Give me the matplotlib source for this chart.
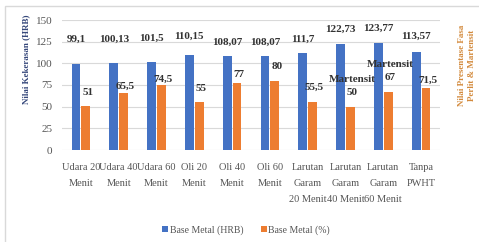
import matplotlib
matplotlib.use("Agg")
import matplotlib.pyplot as plt
from matplotlib.patches import Rectangle
import numpy as np

# --- data -------------------------------------------------------------------
categories = [
    "Udara 20\nMenit", "Udara 40\nMenit", "Udara 60\nMenit", "Oli 20\nMenit",
    "Oli 40\nMenit", "Oli 60\nMenit", "Larutan\nGaram\n20 Menit",
    "Larutan\nGaram\n40 Menit", "Larutan\nGaram\n60 Menit", "Tanpa\nPWHT",
]
hardness = [99.1, 100.13, 101.5, 110.15, 108.07, 108.07, 111.7, 122.73, 123.77, 113.57]
phase_pct = [51, 65.5, 74.5, 55, 77, 80, 55.5, 50, 67, 71.5]
hardness_labels = ["99,1", "100,13", "101,5", "110,15", "108,07", "108,07",
                   "111,7", "122,73", "123,77", "113,57"]
phase_labels = ["51", "65,5", "74,5", "55", "77", "80", "55,5",
                "Martensit\n50", "Martensit\n67", "71,5"]
y_ticks = [0, 25, 50, 75, 100, 125, 150]

# label gaps above bar tops (pixels)
blue_gap = [20, 19, 19, 14, 10, 10, 9, 10, 10, 11]
orange_gap = [9, 2, 2, 9, 4, 10, 10, 10, 10, 3]

BLUE = "#4472C4"
ORANGE = "#ED7D31"
SERIF = ["Liberation Serif", "DejaVu Serif"]

plt.rcParams["font.family"] = SERIF

fig = plt.figure(figsize=(4.79, 2.42), dpi=100)
ax = fig.add_axes([62 / 479, 1 - 150 / 242, 378 / 479, 130 / 242])

x = np.arange(len(categories))
w = 0.23
ax.bar(x - 0.13, hardness, w, color=BLUE, label="Base Metal (HRB)", zorder=3)
ax.bar(x + 0.13, phase_pct, w, color=ORANGE, label="Base Metal (%)", zorder=3)

px = 0.72  # points per pixel at dpi 100
for i in range(len(x)):
    ax.annotate(hardness_labels[i], (x[i] - 0.13, hardness[i]),
                xytext=(0, blue_gap[i] * px), textcoords="offset points",
                ha="center", va="bottom", fontsize=8, fontweight="bold",
                color="#333333")
    ax.annotate(phase_labels[i], (x[i] + 0.13, phase_pct[i]),
                xytext=(2 * px, orange_gap[i] * px), textcoords="offset points",
                ha="center", va="bottom", fontsize=8, fontweight="bold",
                color="#333333", linespacing=1.5)

ax.set_xlim(-0.5, len(x) - 0.5)
ax.set_ylim(0, 150)
ax.set_yticks(y_ticks)
ax.set_xticks(x)
ax.set_xticklabels(categories, fontsize=7.5, color="#555555", linespacing=2.05)
ax.tick_params(axis="y", labelsize=8, labelcolor="#555555", length=0, pad=7)
ax.tick_params(axis="x", length=0, pad=9)
ax.grid(axis="y", color="#D9D9D9", linewidth=0.8, zorder=0)
for s in ax.spines.values():
    s.set_visible(False)

fig.text(26 / 479, 1 - 59 / 242, "Nilai Kekerasan (HRB)", rotation=90,
         ha="center", va="center", fontsize=6.5, fontweight="bold",
         color="#35477A")
fig.text(467 / 479, 1 - 65 / 242, "Nilai Presentase Fasa\nPerlit & Martensit",
         rotation=90, ha="center", va="center", fontsize=6.5,
         fontweight="bold", color="#D38A3C", linespacing=1.2)

fig.legend(loc="center", bbox_to_anchor=(246 / 479, 1 - 230 / 242), ncol=2,
           frameon=False, fontsize=7, handlelength=0.6, handleheight=0.6,
           handletextpad=0.2, columnspacing=1.8, labelcolor="#555555")

fig.patches.append(Rectangle((5 / 479, -0.1), 1.2, 1.1 - 6 / 242,
                             transform=fig.transFigure, fill=False,
                             edgecolor="#D9D9D9", linewidth=1.0))

fig.savefig("out.png", dpi=100, facecolor="white")
